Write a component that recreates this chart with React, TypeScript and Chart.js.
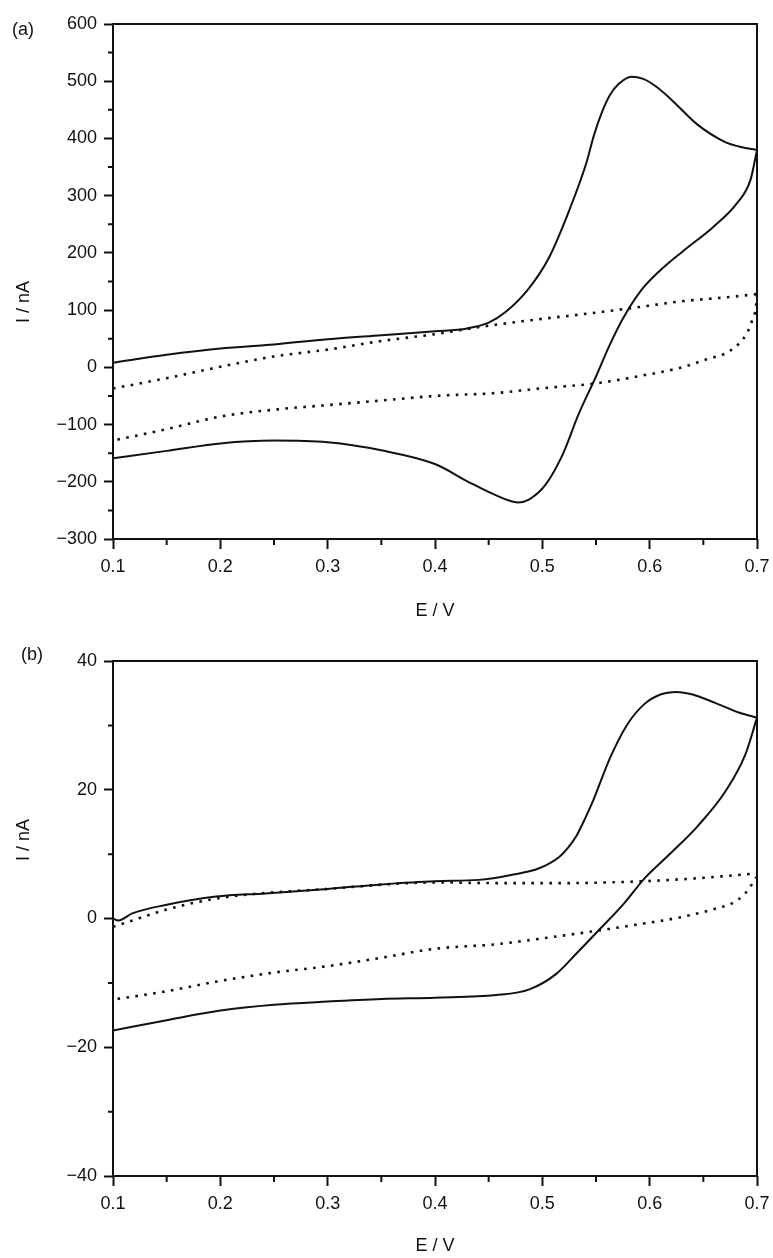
import React, { useEffect, useRef } from "react";
import { Chart, registerables } from "chart.js";

Chart.register(...registerables);

const FONT = "'Liberation Sans', Arial, Helvetica, sans-serif";
const INK = "#111111";
const FSIZE = 18;

// ---------- shared axis data ----------
const E_TICKS = [0.1, 0.2, 0.3, 0.4, 0.5, 0.6, 0.7];
const E_MINOR = [0.15, 0.25, 0.35, 0.45, 0.55, 0.65];

// ---------- panel (a) ----------
const A_I_TICKS = [-300, -200, -100, 0, 100, 200, 300, 400, 500, 600];
const A_I_MINOR = [-250, -150, -50, 50, 150, 250, 350, 450, 550];

const aSolidFwdE = [0.1, 0.15, 0.2, 0.25, 0.3, 0.35, 0.4, 0.43, 0.45, 0.466, 0.4875, 0.506, 0.525, 0.541, 0.548, 0.556, 0.563, 0.571, 0.583, 0.594, 0.605, 0.619, 0.644, 0.669, 0.685, 0.7];
const aSolidFwdI = [8, 22, 33, 40, 49, 56, 63, 68, 78, 97, 138, 191, 274, 357, 405, 448, 476, 495, 508, 504, 492, 470, 425, 395, 385, 380];

const aSolidRevE = [0.7, 0.694, 0.681, 0.659, 0.631, 0.609, 0.591, 0.575, 0.5625, 0.55, 0.534, 0.519, 0.503, 0.4875, 0.477, 0.456, 0.431, 0.4, 0.35, 0.3, 0.25, 0.2, 0.15, 0.1];
const aSolidRevI = [380, 328, 286, 245, 203, 168, 132, 85, 38, -16, -81, -152, -205, -231, -236, -223, -200, -169, -145, -131, -128, -133, -146, -159];

const aDotFwdE = [0.1, 0.15, 0.2, 0.25, 0.3, 0.35, 0.4, 0.44, 0.4875, 0.534, 0.581, 0.628, 0.675, 0.7];
const aDotFwdI = [-37, -19, 1, 19, 31, 46, 58, 70, 82, 92, 103, 115, 123, 128];

const aDotRevE = [0.7, 0.699, 0.696, 0.691, 0.675, 0.653, 0.628, 0.597, 0.55, 0.503, 0.456, 0.4, 0.35, 0.3, 0.25, 0.2, 0.15, 0.1];
const aDotRevI = [128, 105, 85, 61, 29, 14, -1, -13, -28, -36, -45, -50, -58, -66, -74, -86, -108, -128];

// ---------- panel (b) ----------
const B_I_TICKS = [-40, -20, 0, 20, 40];
const B_I_MINOR = [-30, -10, 10, 30];

const bSolidFwdE = [0.1, 0.105, 0.118, 0.149, 0.196, 0.242, 0.3, 0.35, 0.4, 0.441, 0.472, 0.497, 0.516, 0.524, 0.532, 0.54, 0.548, 0.563, 0.579, 0.595, 0.61, 0.625, 0.64, 0.661, 0.683, 0.7];
const bSolidFwdI = [0, -0.3, 0.8, 2.1, 3.4, 3.9, 4.6, 5.3, 5.8, 6.0, 6.8, 7.8, 9.6, 11.0, 12.9, 15.6, 18.6, 24.9, 30.1, 33.3, 34.8, 35.2, 34.8, 33.5, 32.0, 31.2];

const bSolidRevE = [0.7, 0.689, 0.67, 0.645, 0.62, 0.595, 0.576, 0.551, 0.532, 0.513, 0.488, 0.457, 0.4, 0.35, 0.3, 0.25, 0.2, 0.15, 0.1];
const bSolidRevI = [31.2, 25.4, 19.6, 14.4, 10.2, 6.2, 2.3, -2.1, -5.4, -8.6, -11.0, -11.9, -12.3, -12.5, -12.9, -13.4, -14.3, -15.8, -17.4];

const bDotFwdE = [0.1, 0.12, 0.15, 0.2, 0.3, 0.4, 0.46, 0.52, 0.58, 0.64, 0.7];
const bDotFwdI = [-1.3, -0.2, 1.4, 3.2, 4.6, 5.6, 5.5, 5.5, 5.7, 6.2, 7.0];

const bDotRevE = [0.7, 0.689, 0.676, 0.661, 0.629, 0.582, 0.551, 0.504, 0.457, 0.4, 0.35, 0.3, 0.25, 0.2, 0.15, 0.1];
const bDotRevI = [6.5, 3.9, 2.3, 1.5, 0.2, -1.1, -1.9, -3.0, -4.0, -4.7, -6.1, -7.4, -8.4, -9.7, -11.3, -12.6];

// ---------- helpers ----------
const CANVAS_W = 773;
const CANVAS_H = 629;

function pts(xs: number[], ys: number[]) {
  return xs.map((x, i) => ({ x, y: ys[i] }));
}

function fmtI(v: number) {
  return v < 0 ? "\u2212" + Math.abs(v) : String(v);
}

function solid(xs: number[], ys: number[]) {
  return {
    data: pts(xs, ys),
    showLine: true,
    borderColor: INK,
    borderWidth: 2,
    pointRadius: 0,
    cubicInterpolationMode: "monotone" as const,
    fill: false,
  };
}

function dotted(xs: number[], ys: number[]) {
  return {
    data: pts(xs, ys),
    showLine: true,
    borderColor: INK,
    borderWidth: 2.6,
    borderDash: [2.6, 6.4],
    borderCapStyle: "butt" as const,
    pointRadius: 0,
    cubicInterpolationMode: "monotone" as const,
    fill: false,
  };
}

const decorations = {
  id: "decorations",
  afterDatasetsDraw(chart: any, _args: any, opts: any) {
    const { ctx, chartArea } = chart;
    const xs = chart.scales.x;
    const ys = chart.scales.y;
    ctx.save();
    ctx.strokeStyle = INK;
    ctx.lineWidth = 2;
    ctx.beginPath();
    (opts.minorX || []).forEach((v: number) => {
      const px = xs.getPixelForValue(v);
      ctx.moveTo(px, chartArea.bottom);
      ctx.lineTo(px, chartArea.bottom + 6);
    });
    (opts.minorY || []).forEach((v: number) => {
      const py = ys.getPixelForValue(v);
      ctx.moveTo(chartArea.left - 5, py);
      ctx.lineTo(chartArea.left, py);
    });
    ctx.stroke();
    ctx.strokeRect(chartArea.left, chartArea.top, chartArea.right - chartArea.left, chartArea.bottom - chartArea.top);
    ctx.fillStyle = INK;
    ctx.font = `${FSIZE}px ${FONT}`;
    ctx.textAlign = "center";
    ctx.textBaseline = "middle";
    ctx.save();
    ctx.translate(opts.yTitleX, opts.yTitleY);
    ctx.rotate(-Math.PI / 2);
    ctx.fillText(opts.yTitle, 0, 0);
    ctx.restore();
    ctx.fillText(opts.panel, opts.panelX, opts.panelY);
    ctx.restore();
  },
};

interface PanelSpec {
  datasets: any[];
  yMin: number;
  yMax: number;
  yTicks: number[];
  yMinor: number[];
  top: number;
  bottom: number;
  xTitlePad: number;
  yTitleY: number;
  panel: string;
  panelX: number;
  panelY: number;
}

function buildChart(canvas: HTMLCanvasElement, spec: PanelSpec) {
  return new Chart(canvas, {
    type: "scatter",
    data: { datasets: spec.datasets },
    plugins: [decorations],
    options: {
      animation: false,
      responsive: false,
      devicePixelRatio: 1,
      events: [],
      layout: { padding: { top: spec.top, left: 0, right: 16, bottom: 0 } },
      plugins: {
        legend: { display: false },
        tooltip: { enabled: false },
        decorations: {
          minorX: E_MINOR,
          minorY: spec.yMinor,
          yTitle: "I / nA",
          yTitleX: 24,
          yTitleY: spec.yTitleY,
          panel: spec.panel,
          panelX: spec.panelX,
          panelY: spec.panelY,
        },
      } as any,
      scales: {
        x: {
          type: "linear",
          min: 0.1,
          max: 0.7,
          afterBuildTicks: (s: any) => {
            s.ticks = E_TICKS.map((v) => ({ value: v }));
          },
          afterFit: (s: any) => {
            s.height = CANVAS_H - spec.bottom;
            s.paddingLeft = 0;
            s.paddingRight = 0;
          },
          border: { display: false },
          grid: {
            drawOnChartArea: false,
            drawTicks: true,
            tickLength: 10,
            tickWidth: 2,
            tickColor: INK,
            color: INK,
          },
          ticks: {
            autoSkip: false,
            maxRotation: 0,
            padding: 7,
            color: INK,
            font: { size: FSIZE, family: FONT },
            callback: (v: any) => Number(v).toFixed(1),
          },
          title: {
            display: true,
            text: "E / V",
            color: INK,
            font: { size: FSIZE, family: FONT },
            padding: { top: 0, bottom: spec.xTitlePad },
          },
        },
        y: {
          type: "linear",
          min: spec.yMin,
          max: spec.yMax,
          afterBuildTicks: (s: any) => {
            s.ticks = spec.yTicks.map((v) => ({ value: v }));
          },
          afterFit: (s: any) => {
            s.width = 113;
            s.paddingTop = 0;
            s.paddingBottom = 0;
          },
          border: { display: false },
          grid: {
            drawOnChartArea: false,
            drawTicks: true,
            tickLength: 9,
            tickWidth: 2,
            tickColor: INK,
            color: INK,
          },
          ticks: {
            autoSkip: false,
            padding: 7,
            color: INK,
            font: { size: FSIZE, family: FONT },
            callback: (v: any) => fmtI(Number(v)),
          },
        },
      },
    } as any,
  });
}

export default function App() {
  const refA = useRef<HTMLCanvasElement | null>(null);
  const refB = useRef<HTMLCanvasElement | null>(null);

  useEffect(() => {
    Chart.defaults.font.family = FONT;
    const a = buildChart(refA.current!, {
      datasets: [
        dotted(aDotFwdE, aDotFwdI),
        dotted(aDotRevE, aDotRevI),
        solid(aSolidFwdE, aSolidFwdI),
        solid(aSolidRevE, aSolidRevI),
      ],
      yMin: -300,
      yMax: 600,
      yTicks: A_I_TICKS,
      yMinor: A_I_MINOR,
      top: 24,
      bottom: 539,
      xTitlePad: 7,
      yTitleY: 302,
      panel: "(a)",
      panelX: 23,
      panelY: 30,
    });
    const b = buildChart(refB.current!, {
      datasets: [
        dotted(bDotFwdE, bDotFwdI),
        dotted(bDotRevE, bDotRevI),
        solid(bSolidFwdE, bSolidFwdI),
        solid(bSolidRevE, bSolidRevI),
      ],
      yMin: -40,
      yMax: 40,
      yTicks: B_I_TICKS,
      yMinor: B_I_MINOR,
      top: 32,
      bottom: 547,
      xTitlePad: 1,
      yTitleY: 211,
      panel: "(b)",
      panelX: 32,
      panelY: 26,
    });
    return () => {
      a.destroy();
      b.destroy();
    };
  }, []);

  return (
    <div style={{ position: "absolute", left: 0, top: 0, width: CANVAS_W, height: 1258, background: "#fff" }}>
      <canvas ref={refA} width={CANVAS_W} height={CANVAS_H} style={{ position: "absolute", left: 0, top: 0, width: CANVAS_W, height: CANVAS_H }} />
      <canvas ref={refB} width={CANVAS_W} height={CANVAS_H} style={{ position: "absolute", left: 0, top: CANVAS_H, width: CANVAS_W, height: CANVAS_H }} />
    </div>
  );
}
